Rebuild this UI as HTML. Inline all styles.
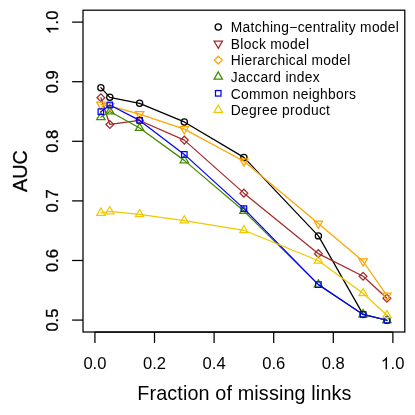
<!DOCTYPE html>
<html><head><meta charset="utf-8"><title>AUC</title>
<style>
html,body{margin:0;padding:0;background:#fff;}
body{width:415px;height:415px;overflow:hidden;}
svg{display:block;will-change:transform;opacity:0.999;}
text{font-family:"Liberation Sans",sans-serif;fill:#000;}
.rot text,text.rot{stroke:#000;stroke-width:0.3px;}
.rot path{stroke:#000;stroke-width:37px;}
</style></head><body>
<svg width="415" height="415" viewBox="0 0 415 415">
<rect x="0" y="0" width="415" height="415" fill="#ffffff"/>

<polyline points="100.88,87.67 109.82,97.32 139.61,103.34 184.31,121.94 243.90,157.39 318.39,235.88 363.09,314.42 386.92,320.26" fill="none" stroke="#000000" stroke-width="1.25" stroke-linejoin="round" stroke-linecap="round"/>
<circle cx="100.88" cy="87.67" r="3.11" fill="none" stroke="#000000" stroke-width="1.25"/>
<circle cx="109.82" cy="97.32" r="3.11" fill="none" stroke="#000000" stroke-width="1.25"/>
<circle cx="139.61" cy="103.34" r="3.11" fill="none" stroke="#000000" stroke-width="1.25"/>
<circle cx="184.31" cy="121.94" r="3.11" fill="none" stroke="#000000" stroke-width="1.25"/>
<circle cx="243.90" cy="157.39" r="3.11" fill="none" stroke="#000000" stroke-width="1.25"/>
<circle cx="318.39" cy="235.88" r="3.11" fill="none" stroke="#000000" stroke-width="1.25"/>
<circle cx="363.09" cy="314.42" r="3.11" fill="none" stroke="#000000" stroke-width="1.25"/>
<circle cx="386.92" cy="320.26" r="3.11" fill="none" stroke="#000000" stroke-width="1.25"/>
<polyline points="100.88,97.80 109.82,124.44 139.61,120.45 184.31,140.11 243.90,193.15 318.39,253.64 363.09,276.28 386.92,298.27" fill="none" stroke="#a52a2a" stroke-width="1.25" stroke-linejoin="round" stroke-linecap="round"/>
<path d="M96.98 97.80L100.88 93.90L104.78 97.80L100.88 101.70Z" fill="none" stroke="#a52a2a" stroke-width="1.25"/>
<path d="M105.92 124.44L109.82 120.54L113.72 124.44L109.82 128.34Z" fill="none" stroke="#a52a2a" stroke-width="1.25"/>
<path d="M135.71 120.45L139.61 116.55L143.51 120.45L139.61 124.35Z" fill="none" stroke="#a52a2a" stroke-width="1.25"/>
<path d="M180.41 140.11L184.31 136.21L188.21 140.11L184.31 144.01Z" fill="none" stroke="#a52a2a" stroke-width="1.25"/>
<path d="M240.00 193.15L243.90 189.25L247.80 193.15L243.90 197.05Z" fill="none" stroke="#a52a2a" stroke-width="1.25"/>
<path d="M314.49 253.64L318.39 249.73L322.29 253.64L318.39 257.54Z" fill="none" stroke="#a52a2a" stroke-width="1.25"/>
<path d="M359.18 276.28L363.09 272.38L366.99 276.28L363.09 280.18Z" fill="none" stroke="#a52a2a" stroke-width="1.25"/>
<path d="M383.02 298.27L386.92 294.37L390.82 298.27L386.92 302.17Z" fill="none" stroke="#a52a2a" stroke-width="1.25"/>
<polyline points="100.88,104.59 109.82,105.97 139.61,114.07 184.31,129.15 243.90,161.27 318.39,223.54 363.09,261.26 386.92,295.65" fill="none" stroke="#ffa500" stroke-width="1.25" stroke-linejoin="round" stroke-linecap="round"/>
<path d="M100.88 109.43L105.07 102.17L96.69 102.17Z" fill="none" stroke="#ffa500" stroke-width="1.25"/>
<path d="M109.82 110.81L114.01 103.55L105.62 103.55Z" fill="none" stroke="#ffa500" stroke-width="1.25"/>
<path d="M139.61 118.91L143.80 111.65L135.42 111.65Z" fill="none" stroke="#ffa500" stroke-width="1.25"/>
<path d="M184.31 133.99L188.50 126.73L180.12 126.73Z" fill="none" stroke="#ffa500" stroke-width="1.25"/>
<path d="M243.90 166.11L248.09 158.85L239.71 158.85Z" fill="none" stroke="#ffa500" stroke-width="1.25"/>
<path d="M318.39 228.38L322.58 221.12L314.20 221.12Z" fill="none" stroke="#ffa500" stroke-width="1.25"/>
<path d="M363.09 266.10L367.28 258.84L358.89 258.84Z" fill="none" stroke="#ffa500" stroke-width="1.25"/>
<path d="M386.92 300.49L391.11 293.23L382.73 293.23Z" fill="none" stroke="#ffa500" stroke-width="1.25"/>
<polyline points="100.88,117.17 109.82,111.51 139.61,127.95 184.31,160.37 243.90,211.03 318.39,284.62 363.09,314.42 386.92,320.26" fill="none" stroke="#458b00" stroke-width="1.25" stroke-linejoin="round" stroke-linecap="round"/>
<path d="M100.88 112.33L105.07 119.59L96.69 119.59Z" fill="none" stroke="#458b00" stroke-width="1.25"/>
<path d="M109.82 106.67L114.01 113.93L105.62 113.93Z" fill="none" stroke="#458b00" stroke-width="1.25"/>
<path d="M139.61 123.11L143.80 130.38L135.42 130.38Z" fill="none" stroke="#458b00" stroke-width="1.25"/>
<path d="M184.31 155.53L188.50 162.79L180.12 162.79Z" fill="none" stroke="#458b00" stroke-width="1.25"/>
<path d="M243.90 206.19L248.09 213.45L239.71 213.45Z" fill="none" stroke="#458b00" stroke-width="1.25"/>
<path d="M318.39 279.78L322.58 287.04L314.20 287.04Z" fill="none" stroke="#458b00" stroke-width="1.25"/>
<path d="M363.09 309.58L367.28 316.84L358.89 316.84Z" fill="none" stroke="#458b00" stroke-width="1.25"/>
<path d="M386.92 315.42L391.11 322.68L382.73 322.68Z" fill="none" stroke="#458b00" stroke-width="1.25"/>
<polyline points="100.88,111.69 109.82,104.95 139.61,120.39 184.31,154.41 243.90,208.64 318.39,284.62 363.09,314.42 386.92,320.26" fill="none" stroke="#0000ff" stroke-width="1.25" stroke-linejoin="round" stroke-linecap="round"/>
<rect x="98.12" y="108.93" width="5.52" height="5.52" fill="none" stroke="#0000ff" stroke-width="1.25"/>
<rect x="107.06" y="102.19" width="5.52" height="5.52" fill="none" stroke="#0000ff" stroke-width="1.25"/>
<rect x="136.85" y="117.63" width="5.52" height="5.52" fill="none" stroke="#0000ff" stroke-width="1.25"/>
<rect x="181.55" y="151.66" width="5.52" height="5.52" fill="none" stroke="#0000ff" stroke-width="1.25"/>
<rect x="241.14" y="205.88" width="5.52" height="5.52" fill="none" stroke="#0000ff" stroke-width="1.25"/>
<rect x="315.63" y="281.87" width="5.52" height="5.52" fill="none" stroke="#0000ff" stroke-width="1.25"/>
<rect x="360.33" y="311.66" width="5.52" height="5.52" fill="none" stroke="#0000ff" stroke-width="1.25"/>
<rect x="384.16" y="317.50" width="5.52" height="5.52" fill="none" stroke="#0000ff" stroke-width="1.25"/>
<polyline points="100.88,212.93 109.82,211.33 139.61,214.30 184.31,220.56 243.90,230.28 318.39,260.79 363.09,293.32 386.92,315.31" fill="none" stroke="#eec900" stroke-width="1.25" stroke-linejoin="round" stroke-linecap="round"/>
<path d="M100.88 208.09L105.07 215.35L96.69 215.35Z" fill="none" stroke="#eec900" stroke-width="1.25"/>
<path d="M109.82 206.48L114.01 213.75L105.62 213.75Z" fill="none" stroke="#eec900" stroke-width="1.25"/>
<path d="M139.61 209.46L143.80 216.72L135.42 216.72Z" fill="none" stroke="#eec900" stroke-width="1.25"/>
<path d="M184.31 215.72L188.50 222.98L180.12 222.98Z" fill="none" stroke="#eec900" stroke-width="1.25"/>
<path d="M243.90 225.44L248.09 232.70L239.71 232.70Z" fill="none" stroke="#eec900" stroke-width="1.25"/>
<path d="M318.39 255.95L322.58 263.21L314.20 263.21Z" fill="none" stroke="#eec900" stroke-width="1.25"/>
<path d="M363.09 288.48L367.28 295.74L358.89 295.74Z" fill="none" stroke="#eec900" stroke-width="1.25"/>
<path d="M386.92 310.47L391.11 317.73L382.73 317.73Z" fill="none" stroke="#eec900" stroke-width="1.25"/>
<rect x="83.0" y="10.2" width="321.8" height="321.8" fill="none" stroke="#000" stroke-width="1.25"/>
<path d="M94.92 332.0H392.88" stroke="#000" stroke-width="1.25" fill="none"/>
<path d="M94.92 332.0V342.9" stroke="#000" stroke-width="1.25" fill="none"/>
<text transform="translate(94.92 369.3)" font-size="16.6" text-anchor="middle">0.0</text>
<path d="M154.51 332.0V342.9" stroke="#000" stroke-width="1.25" fill="none"/>
<text transform="translate(154.51 369.3)" font-size="16.6" text-anchor="middle">0.2</text>
<path d="M214.10 332.0V342.9" stroke="#000" stroke-width="1.25" fill="none"/>
<text transform="translate(214.10 369.3)" font-size="16.6" text-anchor="middle">0.4</text>
<path d="M273.70 332.0V342.9" stroke="#000" stroke-width="1.25" fill="none"/>
<text transform="translate(273.70 369.3)" font-size="16.6" text-anchor="middle">0.6</text>
<path d="M333.29 332.0V342.9" stroke="#000" stroke-width="1.25" fill="none"/>
<text transform="translate(333.29 369.3)" font-size="16.6" text-anchor="middle">0.8</text>
<path d="M392.88 332.0V342.9" stroke="#000" stroke-width="1.25" fill="none"/>
<g transform="translate(392.88 369.3)"><path transform="translate(-12.037 0) scale(0.008105 -0.008105)" d="M763 0H583V1147Q518 1085 412.5 1023Q307 961 223 930V1104Q374 1175 487 1276Q600 1377 647 1472H763Z" fill="#000"/><text x="-2.307" y="0" font-size="16.6">.0</text></g>
<path d="M83.0 320.08H72.1" stroke="#000" stroke-width="1.25" fill="none"/>
<text class="rot" transform="translate(58.3 320.08) rotate(-90)" font-size="16.6" text-anchor="middle">0.5</text>
<path d="M83.0 260.49H72.1" stroke="#000" stroke-width="1.25" fill="none"/>
<text class="rot" transform="translate(58.3 260.49) rotate(-90)" font-size="16.6" text-anchor="middle">0.6</text>
<path d="M83.0 200.90H72.1" stroke="#000" stroke-width="1.25" fill="none"/>
<text class="rot" transform="translate(58.3 200.90) rotate(-90)" font-size="16.6" text-anchor="middle">0.7</text>
<path d="M83.0 141.30H72.1" stroke="#000" stroke-width="1.25" fill="none"/>
<text class="rot" transform="translate(58.3 141.30) rotate(-90)" font-size="16.6" text-anchor="middle">0.8</text>
<path d="M83.0 81.71H72.1" stroke="#000" stroke-width="1.25" fill="none"/>
<text class="rot" transform="translate(58.3 81.71) rotate(-90)" font-size="16.6" text-anchor="middle">0.9</text>
<path d="M83.0 22.12H72.1" stroke="#000" stroke-width="1.25" fill="none"/>
<g class="rot" transform="translate(58.3 22.12) rotate(-90)"><path transform="translate(-12.037 0) scale(0.008105 -0.008105)" d="M763 0H583V1147Q518 1085 412.5 1023Q307 961 223 930V1104Q374 1175 487 1276Q600 1377 647 1472H763Z" fill="#000"/><text x="-2.307" y="0" font-size="16.6">.0</text></g>
<text x="244.4" y="399.6" font-size="19.8" letter-spacing="0.13" text-anchor="middle">Fraction of missing links</text>
<text class="rot" transform="translate(27 171) rotate(-90)" font-size="19.8" text-anchor="middle">AUC</text>
<circle cx="218.25" cy="26.90" r="3.11" fill="none" stroke="#000000" stroke-width="1.25"/>
<text x="230.8" y="32.10" font-size="13.8" letter-spacing="0.31">Matching−centrality model</text>
<path d="M218.25 48.34L222.44 41.08L214.06 41.08Z" fill="none" stroke="#a52a2a" stroke-width="1.25"/>
<text x="230.8" y="48.70" font-size="13.8" letter-spacing="0.31">Block model</text>
<path d="M214.35 60.10L218.25 56.20L222.15 60.10L218.25 64.00Z" fill="none" stroke="#ffa500" stroke-width="1.25"/>
<text x="230.8" y="65.30" font-size="13.8" letter-spacing="0.31">Hierarchical model</text>
<path d="M218.25 71.86L222.44 79.12L214.06 79.12Z" fill="none" stroke="#458b00" stroke-width="1.25"/>
<text x="230.8" y="81.90" font-size="13.8" letter-spacing="0.31">Jaccard index</text>
<rect x="215.49" y="90.54" width="5.52" height="5.52" fill="none" stroke="#0000ff" stroke-width="1.25"/>
<text x="230.8" y="98.50" font-size="13.8" letter-spacing="0.31">Common neighbors</text>
<path d="M218.25 105.06L222.44 112.32L214.06 112.32Z" fill="none" stroke="#eec900" stroke-width="1.25"/>
<text x="230.8" y="115.10" font-size="13.8" letter-spacing="0.31">Degree product</text>
</svg></body></html>
